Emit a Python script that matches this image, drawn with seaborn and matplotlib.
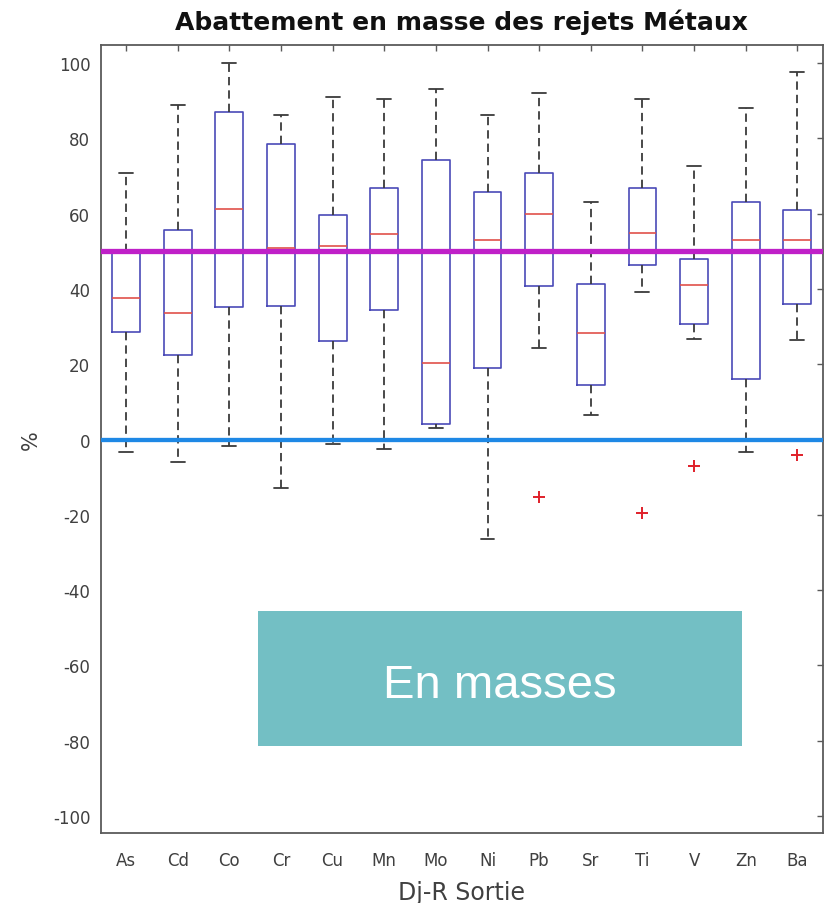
import numpy as np
import pandas as pd
import matplotlib
matplotlib.use("Agg")
import matplotlib.pyplot as plt
import seaborn as sns
from matplotlib.patches import Rectangle

# ---------------- data ----------------
metals = ["As", "Cd", "Co", "Cr", "Cu", "Mn", "Mo", "Ni", "Pb", "Sr", "Ti", "V", "Zn", "Ba"]
whisker_low = [-3.3, -5.9, -1.6, -13.0, -1.2, -2.5, 3.2, -26.4, 24.4, 6.6, 39.1, 26.8, -3.3, 26.5]
q1 = [28.6, 22.4, 35.2, 35.6, 26.1, 34.3, 4.2, 19.0, 40.8, 14.6, 46.5, 30.6, 16.2, 36.0]
median = [37.6, 33.7, 61.3, 51.0, 51.4, 54.5, 20.4, 52.9, 60.0, 28.4, 54.9, 41.1, 52.9, 52.9]
q3 = [49.8, 55.8, 87.1, 78.4, 59.6, 66.7, 74.3, 65.9, 70.7, 41.4, 66.8, 48.0, 63.2, 61.1]
whisker_high = [70.7, 88.9, 100.0, 86.2, 91.1, 90.6, 93.1, 86.2, 92.0, 63.2, 90.6, 72.8, 88.1, 97.7]
outlier = [np.nan, np.nan, np.nan, np.nan, np.nan, np.nan, np.nan, np.nan,
           -15.2, np.nan, -19.6, -6.9, np.nan, -4.0]
y_ticks = list(range(-100, 101, 20))
ref_target = 50
ref_zero = 0
title = "Abattement en masse des rejets Métaux"
x_label = "Dj-R Sortie"
y_label = "%"
note = "En masses"

# Build samples reproducing the five-number summaries (+ outliers)
rows = []
for i, m in enumerate(metals):
    vals = [whisker_low[i]] + [q1[i]] * 5 + [median[i]] * 3 + [q3[i]] * 5 + [whisker_high[i]]
    if not np.isnan(outlier[i]):
        vals.append(outlier[i])
    rows += [(m, v) for v in vals]
df = pd.DataFrame(rows, columns=["metal", "value"])

# ---------------- style ----------------
sns.set_theme(style="white")
plt.rcParams["font.family"] = ["DejaVu Sans"]

BOX = "#4A4AB8"
MED = "#E0504A"
WHISK = "#3A3A3A"
FLIER = "#E0202A"
MAG = "#BF20C8"
BLUE = "#1E88E5"
SPINE = "#5A5A5A"
TXT = "#404040"

fig = plt.figure(figsize=(8.32, 9.04), dpi=100)
fig.patch.set_facecolor("white")
ax = fig.add_axes([100.7 / 832, 1 - 834.3 / 904, 722 / 832, (834.3 - 45.7) / 904])

sns.boxplot(
    data=df, x="metal", y="value", order=metals, ax=ax,
    whis=1.53, width=0.54, fill=False, linewidth=1.2,
    boxprops=dict(color=BOX),
    medianprops=dict(color=MED, linewidth=1.2),
    whiskerprops=dict(color=WHISK, linestyle=(0, (4.6, 2.8)), linewidth=1.3),
    capprops=dict(color=WHISK, linewidth=1.3),
    flierprops=dict(marker="+", markeredgecolor=FLIER, markerfacecolor=FLIER,
                    markersize=9, markeredgewidth=1.4),
)

ax.axhline(ref_target, color=MAG, linewidth=3.8, zorder=6)
ax.axhline(ref_zero, color=BLUE, linewidth=3.1, zorder=6)

ax.set_xlim(-0.49, 13.49)
ax.set_ylim(-104.6, 104.9)
ax.set_yticks(y_ticks)
ax.set_yticklabels([str(t) for t in y_ticks])

for s in ax.spines.values():
    s.set_visible(True)
    s.set_color(SPINE)
    s.set_linewidth(1.3)

ax.tick_params(axis="both", direction="in", length=4.5, width=1.0, colors=SPINE,
               top=True, right=True, labelsize=12, labelcolor=TXT)
ax.tick_params(axis="y", pad=7.5)
ax.tick_params(axis="x", pad=13)

ax.set_title(title, fontsize=18, fontweight="bold", color="#111111", pad=11)
ax.set_xlabel(x_label, fontsize=17, color=TXT, labelpad=7.5)
ax.set_ylabel(y_label, fontsize=15, color=TXT)
ax.yaxis.set_label_coords((41 - 100.7) / 722, 0.5)

# Annotation box
fig.add_artist(Rectangle((258 / 832, 1 - 747 / 904), 484 / 832, 135 / 904,
                         transform=fig.transFigure, facecolor="#73BFC4",
                         edgecolor="none", zorder=10))
fig.text(500 / 832, 1 - 698 / 904, note, color="white", fontsize=34,
         family=["Liberation Sans", "DejaVu Sans"],
         ha="center", va="baseline", zorder=11)

fig.savefig("out.png", dpi=100, facecolor="white")
